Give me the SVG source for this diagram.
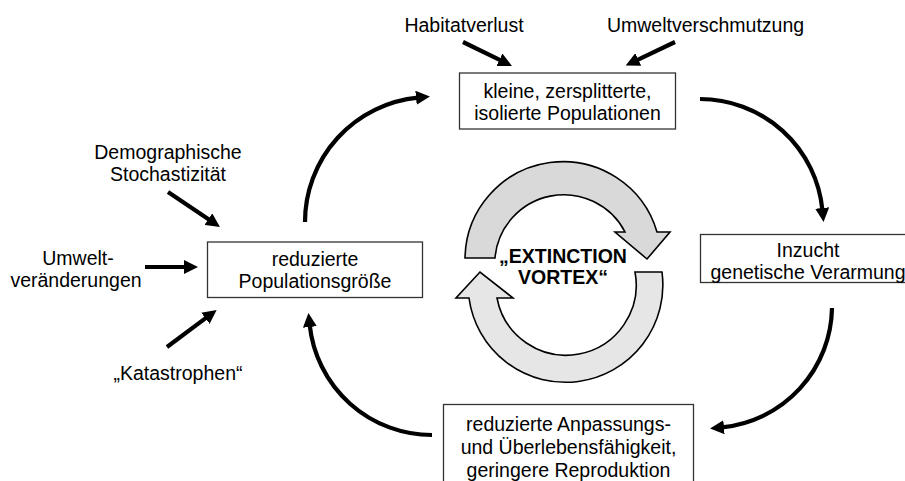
<svg xmlns="http://www.w3.org/2000/svg" width="905" height="481" viewBox="0 0 905 481">
<defs>
<style>
text{font-family:"Liberation Sans",Arial,sans-serif;font-size:19.5px;fill:#000}
.c{text-anchor:middle}
.b{font-weight:bold}
.box{fill:#fff;stroke:#333;stroke-width:1.3}
.ar{fill:none;stroke:#000;stroke-width:4.2;marker-end:url(#h)}
.vx{stroke:#000;stroke-width:1.6;stroke-linejoin:miter}
</style>
<marker id="h" markerUnits="userSpaceOnUse" markerWidth="14" markerHeight="14" refX="2" refY="7" orient="auto" viewBox="0 0 14 14">
<path d="M0,0 L14,7 L0,14 Z" fill="#000"/>
</marker>
</defs>
<rect width="905" height="481" fill="#fff"/>

<g id="connectors">
<line class="ar" x1="463" y1="42" x2="501.2" y2="60.7"/>
<line class="ar" x1="675" y1="42" x2="636.5" y2="60.4"/>
<line class="ar" x1="168" y1="192" x2="210" y2="220.3"/>
<line class="ar" x1="145" y1="267" x2="186" y2="267"/>
<line class="ar" x1="167" y1="347" x2="207" y2="317.1"/>
<path class="ar" d="M305,222 A125,125 0 0 1 418,97.6"/>
<path class="ar" d="M700,99 A123,123 0 0 1 822.4,210"/>
<path class="ar" d="M832,308 A122,122 0 0 1 722,427.4"/>
<path class="ar" d="M432,435 A123,123 0 0 1 309.7,325"/>
</g>

<g id="vortex">
<path class="vx" fill="#d9d9d9" d="M465,258 A98,98 0 0 1 657,232 L670,232 L647,259 L615,232 L625,232 A69,69 0 0 0 495,258 Z"/>
<path class="vx" fill="#e6e6e6" d="M635,272 L662,272 A97,97 0 0 1 469,298 L456,298 L480,272 L513,298 L497,298 A70,70 0 0 0 635,272 Z"/>
<text class="c b" x="563" y="263">„EXTINCTION</text>
<text class="c b" x="563" y="284">VORTEX“</text>
</g>

<g id="habitatverlust"><text class="c" x="464" y="32">Habitatverlust</text></g>
<g id="umweltverschmutzung"><text class="c" x="705.5" y="32">Umweltverschmutzung</text></g>

<g id="kleine-populationen">
<rect class="box" x="459.5" y="73" width="216" height="56"/>
<text class="c" x="567.5" y="97.5">kleine, zersplitterte,</text>
<text class="c" x="567.5" y="119.5">isolierte Populationen</text>
</g>

<g id="inzucht">
<rect class="box" x="700.5" y="234.5" width="220" height="48"/>
<text class="c" x="808" y="257">Inzucht</text>
<text class="c" x="808" y="279">genetische Verarmung</text>
</g>

<g id="reduzierte-anpassung">
<rect class="box" x="443.5" y="404.5" width="250" height="90"/>
<text class="c" x="568.5" y="431">reduzierte Anpassungs-</text>
<text class="c" x="568.5" y="454">und Überlebensfähigkeit,</text>
<text class="c" x="568.5" y="477">geringere Reproduktion</text>
</g>

<g id="populationsgroesse">
<rect class="box" x="207.5" y="242" width="215" height="55.5"/>
<text class="c" x="315" y="266">reduzierte</text>
<text class="c" x="315" y="288">Populationsgröße</text>
</g>

<g id="demographische">
<text class="c" x="168" y="158.5">Demographische</text>
<text class="c" x="168" y="181">Stochastizität</text>
</g>

<g id="umweltveraenderungen">
<text class="c" x="78" y="265">Umwelt-</text>
<text class="c" x="76" y="287">veränderungen</text>
</g>

<g id="katastrophen"><text class="c" x="178" y="380">„Katastrophen“</text></g>
</svg>
